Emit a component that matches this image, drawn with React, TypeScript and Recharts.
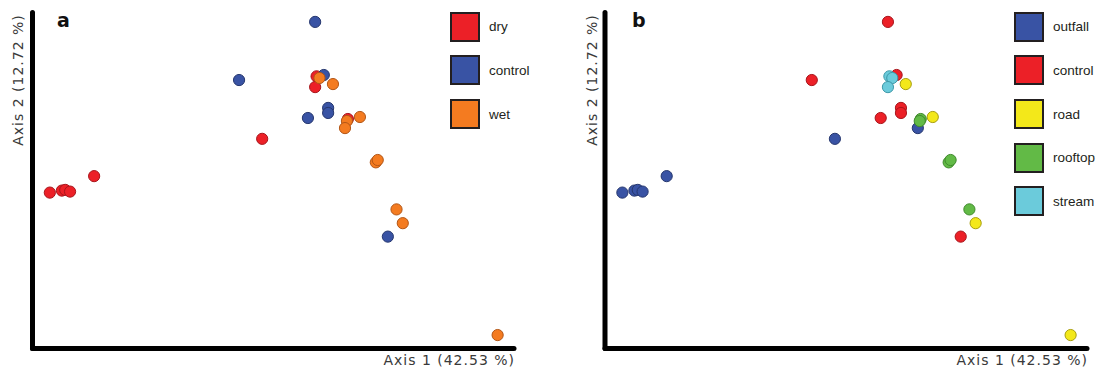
import { ScatterChart, Scatter, XAxis, YAxis, Legend } from 'recharts';

// ordination scores (rescaled 0-100 on both axes)
const axis1 = [58.7, 42.9, 60.5, 59.0, 59.6, 58.7, 62.4, 61.4, 61.4, 57.2, 65.5, 65.3, 68.0, 64.9, 47.7, 71.3, 71.7, 12.8, 3.6, 6.1, 6.8, 7.8, 75.6, 76.9, 73.8, 96.6];
const axis2 = [97.2, 79.9, 81.4, 81.0, 80.5, 77.8, 78.7, 71.6, 70.1, 68.6, 68.3, 67.7, 68.9, 65.6, 62.4, 55.4, 56.1, 51.3, 46.4, 47.0, 47.2, 46.7, 41.4, 37.3, 33.3, 4.0];

const season = ['control', 'control', 'control', 'dry', 'wet', 'dry', 'wet', 'control', 'control', 'control', 'dry', 'wet', 'wet', 'wet', 'dry', 'wet', 'wet', 'dry', 'dry', 'dry', 'dry', 'dry', 'wet', 'wet', 'control', 'wet'];
const site = ['control', 'control', 'control', 'stream', 'stream', 'stream', 'road', 'control', 'control', 'control', 'rooftop', 'rooftop', 'road', 'outfall', 'outfall', 'rooftop', 'rooftop', 'outfall', 'outfall', 'outfall', 'outfall', 'outfall', 'rooftop', 'road', 'control', 'road'];

const seasonCats = ['dry', 'control', 'wet'];
const seasonFill = ['#ec2027', '#3953a4', '#f47b20'];
const seasonEdge = ['#a8151b', '#26376f', '#b35616'];

const siteCats = ['outfall', 'control', 'road', 'rooftop', 'stream'];
const siteFill = ['#3953a4', '#ec2027', '#f3e81a', '#62ba46', '#6bcbdb'];
const siteEdge = ['#26376f', '#a8151b', '#a89f10', '#3f8a2c', '#3c98a8'];

const W = 553;
const H = 375;

interface PanelProps {
  letter: string;
  letterX: number;
  yAxisWidth: number;
  rightMargin: number;
  yLabelX: number;
  legendLeft: number;
  groups: string[];
  cats: string[];
  fills: string[];
  edges: string[];
}

function Panel(props: PanelProps) {
  const { letter, letterX, yAxisWidth, rightMargin, yLabelX, legendLeft, groups, cats, fills, edges } = props;
  const plotRight = W - rightMargin;

  const renderLegend = () => (
    <div style={{ display: 'flex', flexDirection: 'column', gap: 13.7 }}>
      {cats.map((c, i) => (
        <div key={c} style={{ display: 'flex', alignItems: 'center', height: 30 }}>
          <div
            style={{
              width: 30,
              height: 30,
              boxSizing: 'border-box',
              border: '2px solid #231f20',
              background: fills[i],
            }}
          />
          <span
            style={{
              marginLeft: 9,
              fontSize: 13.5,
              fontFamily: '"Liberation Sans", Arial, sans-serif',
              color: '#231f20',
            }}
          >
            {c}
          </span>
        </div>
      ))}
    </div>
  );

  return (
    <ScatterChart width={W} height={H} margin={{ top: 12.5, right: rightMargin, bottom: 0, left: 0 }}>
      <XAxis
        type="number"
        dataKey="x"
        domain={[0, 100]}
        height={26.5}
        tick={false}
        tickLine={false}
        axisLine={{ stroke: '#000', strokeWidth: 5, strokeLinecap: 'round' }}
        label={{
          content: () => (
            <text
              x={plotRight + 1}
              y={365}
              textAnchor="end"
              fontSize={14}
              letterSpacing={1}
              fontFamily='"DejaVu Sans", Verdana, sans-serif'
              fill="#3a3a3a"
            >
              Axis 1 (42.53 %)
            </text>
          ),
        }}
      />
      <YAxis
        type="number"
        dataKey="y"
        domain={[0, 100]}
        width={yAxisWidth}
        tick={false}
        tickLine={false}
        axisLine={{ stroke: '#000', strokeWidth: 5, strokeLinecap: 'round' }}
        label={{
          content: () => (
            <g>
              <text
                x={yLabelX}
                y={80}
                transform={`rotate(-90 ${yLabelX} 80)`}
                textAnchor="middle"
                dominantBaseline="central"
                fontSize={14}
                letterSpacing={1}
                fontFamily='"DejaVu Sans", Verdana, sans-serif'
                fill="#3a3a3a"
              >
                Axis 2 (12.72 %)
              </text>
              <text
                x={letterX}
                y={27}
                fontSize={19}
                fontWeight="bold"
                fontFamily='"DejaVu Sans", Verdana, sans-serif'
                fill="#111"
              >
                {letter}
              </text>
            </g>
          ),
        }}
      />
      <Legend
        layout="horizontal"
        verticalAlign="middle"
        align="center"
        content={renderLegend}
        wrapperStyle={{ left: legendLeft, top: 11.7, width: 110 }}
      />
      {cats.map((c, i) => (
        <Scatter
          key={c}
          name={c}
          data={axis1
            .map((x, k) => ({ x, y: axis2[k], g: groups[k] }))
            .filter((d) => d.g === c)}
          fill={fills[i]}
          isAnimationActive={false}
          shape={(p: any) => (
            <circle cx={p.cx} cy={p.cy} r={5.6} fill={fills[i]} stroke={edges[i]} strokeWidth={1} />
          )}
        />
      ))}
    </ScatterChart>
  );
}

export default function App() {
  return (
    <div style={{ position: 'absolute', left: 0, top: 0, width: 1106, height: 375, display: 'flex', background: '#fff' }}>
      <Panel
        letter="a"
        letterX={57}
        yAxisWidth={32.5}
        rightMargin={39}
        yLabelX={18}
        legendLeft={450}
        groups={season}
        cats={seasonCats}
        fills={seasonFill}
        edges={seasonEdge}
      />
      <Panel
        letter="b"
        letterX={79}
        yAxisWidth={52}
        rightMargin={19}
        yLabelX={38.7}
        legendLeft={461}
        groups={site}
        cats={siteCats}
        fills={siteFill}
        edges={siteEdge}
      />
    </div>
  );
}
